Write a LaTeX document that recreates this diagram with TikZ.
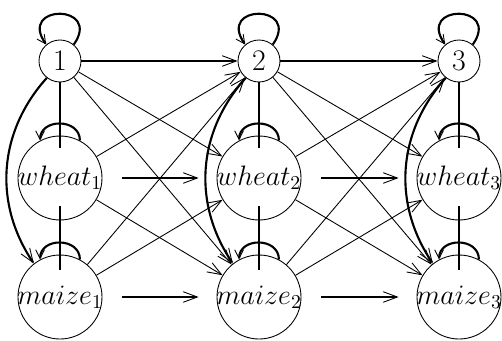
\RequirePackage{fix-cm}
\documentclass[tikz,border=0pt]{standalone}
\usetikzlibrary{arrows.meta}
\newcommand{\cropname}[1]{\makebox[0pt]{$#1$}}
\begin{document}
\begin{tikzpicture}[>={Straight Barb[length=8pt,width=6pt,line width=0.5pt]},
  small/.style={draw, circle, line width=0.5pt, minimum size=0.84cm, inner sep=0pt, font=\fontsize{17}{19}\selectfont},
  big/.style={draw, circle, line width=0.5pt, minimum size=1.68cm, inner sep=0pt, font=\fontsize{16}{19}\selectfont},
  thickline/.style={line width=1.2pt},
  thinarrow/.style={->, line width=0.5pt},
  selfloop/.style={->, line width=1.2pt, >={Straight Barb[length=5pt,width=5pt,line width=0.5pt]}}]
\useasboundingbox (0,0) rectangle (10.04,6.8);
\node[small] (n1) at (1.2,5.58) {\cropname{1}};
\node[small] (n2) at (5.18,5.58) {\cropname{2}};
\node[small] (n3) at (9.18,5.58) {\cropname{3}};
\node[big] (w1) at (1.2,3.24) {\cropname{wheat_1}};
\node[big] (w2) at (5.18,3.24) {\cropname{wheat_2}};
\node[big] (w3) at (9.18,3.24) {\cropname{wheat_3}};
\node[big] (m1) at (1.2,0.86) {\cropname{maize_1}};
\node[big] (m2) at (5.18,0.86) {\cropname{maize_2}};
\node[big] (m3) at (9.18,0.86) {\cropname{maize_3}};
% self loops
\draw[selfloop] (n1.50) .. controls +(55:1.0) and +(125:1.0) .. (n1.130);
\draw[selfloop] (n2.50) .. controls +(55:1.0) and +(125:1.0) .. (n2.130);
\draw[selfloop] (n3.50) .. controls +(55:1.0) and +(125:1.0) .. (n3.130);
\draw[selfloop] (w1.62) .. controls +(90:0.45) and +(90:0.45) .. (w1.118);
\draw[selfloop] (w2.62) .. controls +(90:0.45) and +(90:0.45) .. (w2.118);
\draw[selfloop] (w3.62) .. controls +(90:0.45) and +(90:0.45) .. (w3.118);
\draw[selfloop] (m1.62) .. controls +(90:0.45) and +(90:0.45) .. (m1.118);
\draw[selfloop] (m2.62) .. controls +(90:0.45) and +(90:0.45) .. (m2.118);
\draw[selfloop] (m3.62) .. controls +(90:0.45) and +(90:0.45) .. (m3.118);
% columns
\draw[thickline, shorten >=-0.24cm] (n1) -- (w1);
\draw[thickline, shorten >=-0.24cm] (n2) -- (w2);
\draw[thickline, shorten >=-0.24cm] (n3) -- (w3);
\draw[thickline, shorten <=-0.28cm, shorten >=-0.3cm] (w1) -- (m1);
\draw[thickline, shorten <=-0.28cm, shorten >=-0.3cm] (w2) -- (m2);
\draw[thickline, shorten <=-0.28cm, shorten >=-0.3cm] (w3) -- (m3);
\draw[->, thickline] (n1) to[bend right=38] (m1);
\draw[->, thickline] (n2) to[bend right=38] (m2);
\draw[->, thickline] (n3) to[bend right=38] (m3);
% from column 1 to column 2
\draw[->, thickline] (n1) -- (n2);
\draw[->, thickline, shorten <=0.4cm, shorten >=0.36cm] (w1) -- (w2);
\draw[->, thickline, shorten <=0.4cm, shorten >=0.36cm] (m1) -- (m2);
\draw[thinarrow] (n1) -- (w2);
\draw[thinarrow] (n1) -- (m2);
\draw[thinarrow] (w1) -- (n2);
\draw[thinarrow] (w1) -- (m2);
\draw[thinarrow] (m1) -- (n2);
\draw[thinarrow] (m1) -- (w2);
% from column 2 to column 3
\draw[->, thickline] (n2) -- (n3);
\draw[->, thickline, shorten <=0.4cm, shorten >=0.36cm] (w2) -- (w3);
\draw[->, thickline, shorten <=0.4cm, shorten >=0.36cm] (m2) -- (m3);
\draw[thinarrow] (n2) -- (w3);
\draw[thinarrow] (n2) -- (m3);
\draw[thinarrow] (w2) -- (n3);
\draw[thinarrow] (w2) -- (m3);
\draw[thinarrow] (m2) -- (n3);
\draw[thinarrow] (m2) -- (w3);
\end{tikzpicture}
\end{document}
